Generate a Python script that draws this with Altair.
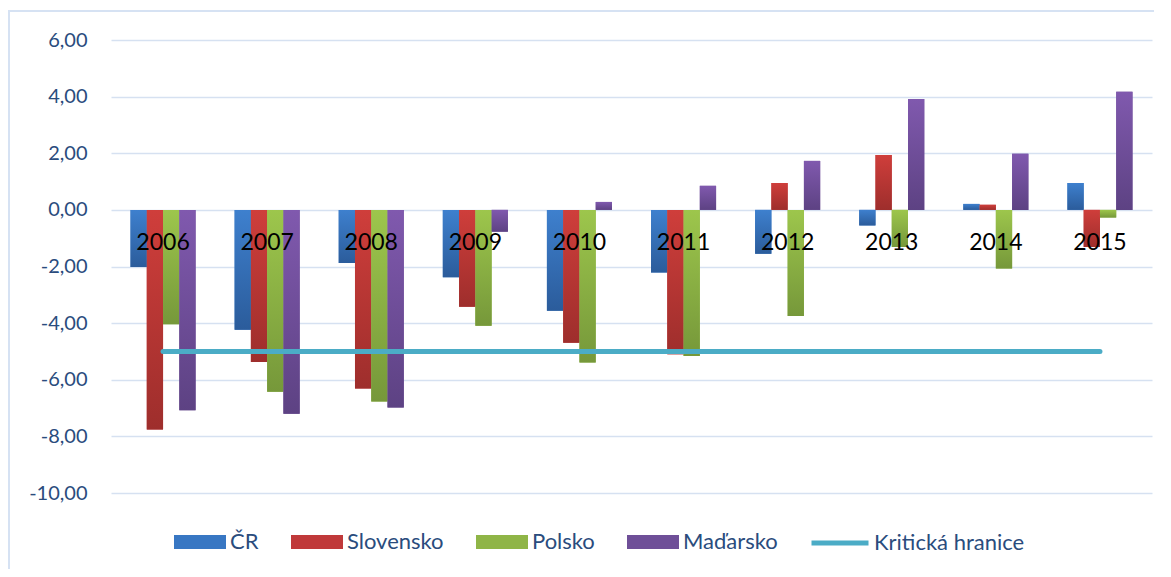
import altair as alt
import pandas as pd

years = ["2006", "2007", "2008", "2009", "2010", "2011", "2012", "2013", "2014", "2015"]
cr = [-2.02, -4.23, -1.88, -2.38, -3.56, -2.21, -1.55, -0.55, 0.21, 0.95]
slovensko = [-7.76, -5.37, -6.31, -3.42, -4.69, -5.10, 0.95, 1.94, 0.18, -1.31]
polsko = [-4.04, -6.42, -6.77, -4.09, -5.39, -5.16, -3.75, -1.31, -2.07, -0.27]
madarsko = [-7.08, -7.20, -6.98, -0.77, 0.28, 0.85, 1.73, 3.92, 1.98, 4.17]
kriticka = [-5.0] * 10

bar_names = ["ČR", "Slovensko", "Polsko", "Maďarsko"]
bar_colors = ["#3877C3", "#C0393A", "#8FB547", "#6F4F98"]
bar_light = ["#3E80CE", "#CF3E3B", "#9DC64C", "#8059AE"]
bar_dark = ["#2B5C9B", "#9E2E2C", "#76983A", "#5D4283"]
line_name = "Kritická hranice"
line_color = "#4BACC6"
y_ticks = [-10, -8, -6, -4, -2, 0, 2, 4, 6]

rows = []
for name, vals in zip(bar_names, [cr, slovensko, polsko, madarsko]):
    for yr, v in zip(years, vals):
        rows.append({"rok": yr, "serie": name, "hodnota": v})
bars_df = pd.DataFrame(rows)
line_df = pd.DataFrame({"rok": years, "hodnota": kriticka, "serie": [line_name] * len(years)})
label_df = pd.DataFrame({"rok": years, "nula": [0] * len(years)})

FONT = "Lato"
TEXT_COLOR = "#2A4C7D"

x_scale = alt.Scale(domain=years, paddingInner=0.375, paddingOuter=0.1875)
y_scale = alt.Scale(domain=[-10, 6], nice=False, zero=False)
xo_scale = alt.Scale(domain=bar_names)

rect_shape = "M-1,-0.27L1,-0.27L1,0.27L-1,0.27Z"

frame = alt.Chart(pd.DataFrame({"f": [0]})).mark_rect(
    fill=None, stroke="#D6E2F3", strokeWidth=2
).encode(
    x=alt.value(-102), x2=alt.value(1080), y=alt.value(-29), y2=alt.value(560)
)

y_axis = alt.Axis(
    values=y_ticks,
    title=None,
    domain=False,
    ticks=False,
    labelExpr="replace(replace(format(datum.value, '.2f'), '.', ','), '\u2212', '-')",
    labelFont=FONT,
    labelFontSize=20,
    labelColor=TEXT_COLOR,
    labelPadding=24,
    grid=True,
    gridColor="#D6E1F1",
    gridWidth=1.5,
)

bars = alt.Chart(bars_df).mark_bar().encode(
    x=alt.X("rok:N", scale=x_scale, axis=None),
    xOffset=alt.XOffset("serie:N", scale=xo_scale),
    y=alt.Y("hodnota:Q", scale=y_scale, axis=y_axis),
    color=alt.Color(
        "serie:N",
        scale=alt.Scale(domain=bar_names, range=bar_colors),
        legend=alt.Legend(
            title=None,
            orient="none",
            direction="horizontal",
            legendX=63,
            legendY=476,
            symbolType=rect_shape,
            symbolSize=2704,
            symbolStrokeWidth=0,
            symbolOpacity=1,
            labelFont=FONT,
            labelFontSize=22,
            labelColor=TEXT_COLOR,
            labelOffset=4,
            columnPadding=32,
            labelLimit=300,
        ),
    ),
)

grad_layers = []
for name, c1, c2 in zip(bar_names, bar_light, bar_dark):
    grad = alt.Gradient(
        gradient="linear",
        stops=[alt.GradientStop(offset=0, color=c1), alt.GradientStop(offset=1, color=c2)],
        x1=0, x2=0, y1=0, y2=1,
    )
    grad_layers.append(
        alt.Chart(bars_df).transform_filter(alt.datum.serie == name).mark_bar(color=grad).encode(
            x=alt.X("rok:N", scale=x_scale, axis=None),
            xOffset=alt.XOffset("serie:N", scale=xo_scale),
            y=alt.Y("hodnota:Q", scale=y_scale),
        )
    )

line = alt.Chart(line_df).mark_line(strokeWidth=5, strokeCap="round").encode(
    x=alt.X("rok:N", scale=x_scale, axis=None),
    y=alt.Y("hodnota:Q", scale=y_scale),
    color=alt.Color(
        "serie:N",
        scale=alt.Scale(domain=[line_name], range=[line_color]),
        legend=alt.Legend(
            title=None,
            orient="none",
            direction="horizontal",
            legendX=698,
            legendY=472,
            symbolType="stroke",
            symbolSize=3249,
            symbolStrokeWidth=5,
            labelFont=FONT,
            labelFontSize=22,
            labelColor=TEXT_COLOR,
            labelOffset=3,
            labelLimit=300,
        ),
    ),
)

labels = alt.Chart(label_df).mark_text(
    font=FONT, fontSize=23, color="#000000", dy=33, baseline="middle"
).encode(
    x=alt.X("rok:N", scale=x_scale, axis=None),
    y=alt.Y("nula:Q", scale=y_scale),
    text="rok:N",
)

chart = alt.layer(frame, bars, *grad_layers, line, labels).resolve_scale(color="independent").properties(
    width=1041,
    height=453,
    autosize=alt.AutoSizeParams(type="none"),
    padding={"left": 103, "top": 32, "right": 2, "bottom": 76},
    background="#FFFFFF",
).configure_view(stroke=None)

chart.save("out.html", embed_options={"renderer": "svg", "actions": False})
